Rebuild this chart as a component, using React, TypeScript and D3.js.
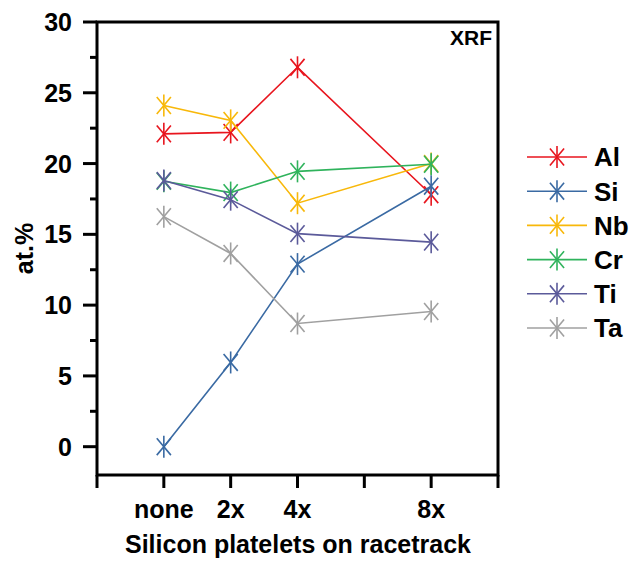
import React from "react";
import * as d3 from "d3";

const xValues = [0, 2, 4, 8];
const xTickLabels = ["none", "2x", "4x", "", "8x"];
const xTickValues = [0, 2, 4, 6, 8];

const elements = ["Al", "Si", "Nb", "Cr", "Ti", "Ta"];
const colors = ["#e8151e", "#3a6aa3", "#f8b80a", "#2fb35c", "#5b5a9a", "#a0a0a0"];

const alValues = [22.1, 22.2, 26.8, 17.8];
const siValues = [0, 5.95, 12.9, 18.4];
const nbValues = [24.1, 23.05, 17.2, 20.0];
const crValues = [18.75, 17.95, 19.45, 19.95];
const tiValues = [18.8, 17.45, 15.05, 14.45];
const taValues = [16.25, 13.65, 8.7, 9.55];

const seriesValues = [alValues, siValues, nbValues, crValues, tiValues, taValues];

const yMajorTicks = [0, 5, 10, 15, 20, 25, 30];
const yMinorTicks = [2.5, 7.5, 12.5, 17.5, 22.5, 27.5];

const W = 630;
const H = 569;
const FONT = "'Liberation Sans', Arial, sans-serif";

// asterisk marker: vertical arm + two steep diagonals
const Star: React.FC<{ x: number; y: number; color: string }> = ({ x, y, color }) => {
  const r = 11;
  const a = (50 * Math.PI) / 180;
  const dx = r * Math.cos(a);
  const dy = r * Math.sin(a);
  return (
    <g stroke={color} strokeWidth={1.6} fill="none">
      <line x1={x} y1={y - r} x2={x} y2={y + r} />
      <line x1={x - dx} y1={y - dy} x2={x + dx} y2={y + dy} />
      <line x1={x - dx} y1={y + dy} x2={x + dx} y2={y - dy} />
    </g>
  );
};

const App: React.FC = () => {
  const x = d3.scaleLinear().domain([-2, 10]).range([97, 498]);
  const y = d3.scaleLinear().domain([-2, 30]).range([475, 22]);

  const line = d3
    .line<number>()
    .x((_, i) => x(xValues[i]))
    .y((d) => y(d));

  const x0 = x(-2);
  const x1 = x(10);
  const y0 = y(-2);
  const y1 = y(30);

  return (
    <svg
      width={W}
      height={H}
      style={{ position: "absolute", left: 0, top: 0, background: "#fff" }}
      fontFamily={FONT}
      fontWeight="bold"
    >
      <rect width={W} height={H} fill="#fff" />

      {/* series */}
      {seriesValues.map((vals, si) => (
        <g key={elements[si]}>
          <path d={line(vals) || ""} fill="none" stroke={colors[si]} strokeWidth={1.6} />
          {vals.map((v, i) => (
            <Star key={i} x={x(xValues[i])} y={y(v)} color={colors[si]} />
          ))}
        </g>
      ))}

      {/* frame */}
      <rect x={x0} y={y1} width={x1 - x0} height={y0 - y1} fill="none" stroke="#000" strokeWidth={3} />

      {/* y ticks */}
      {yMajorTicks.map((t) => (
        <g key={t}>
          <line x1={x0 - 14} x2={x0} y1={y(t)} y2={y(t)} stroke="#000" strokeWidth={3} />
          <text x={72} y={y(t)} dy="0.36em" textAnchor="end" fontSize={25}>
            {t}
          </text>
        </g>
      ))}
      {yMinorTicks.map((t) => (
        <line key={t} x1={x0 - 7} x2={x0} y1={y(t)} y2={y(t)} stroke="#000" strokeWidth={3} />
      ))}

      {/* x ticks */}
      {[-2, ...xTickValues, 10].map((t) => (
        <line key={t} x1={x(t)} x2={x(t)} y1={y0} y2={y0 + 13} stroke="#000" strokeWidth={3} />
      ))}
      {xTickValues.map((t, i) => (
        <text key={t} x={x(t)} y={518} textAnchor="middle" fontSize={25}>
          {xTickLabels[i]}
        </text>
      ))}

      {/* axis titles */}
      <text x={298} y={553} textAnchor="middle" fontSize={25}>
        Silicon platelets on racetrack
      </text>
      <text
        transform={`translate(33, ${(y0 + y1) / 2}) rotate(-90)`}
        textAnchor="middle"
        fontSize={25}
      >
        at.%
      </text>

      <text x={492} y={45} textAnchor="end" fontSize={21}>
        XRF
      </text>

      {/* legend */}
      {elements.map((el, i) => {
        const ly = 157 + i * 34.2;
        return (
          <g key={el}>
            <line x1={527} x2={587} y1={ly} y2={ly} stroke={colors[i]} strokeWidth={1.6} />
            <Star x={557} y={ly} color={colors[i]} />
            <text x={594} y={ly} dy="0.36em" fontSize={26}>
              {el}
            </text>
          </g>
        );
      })}
    </svg>
  );
};

export default App;
